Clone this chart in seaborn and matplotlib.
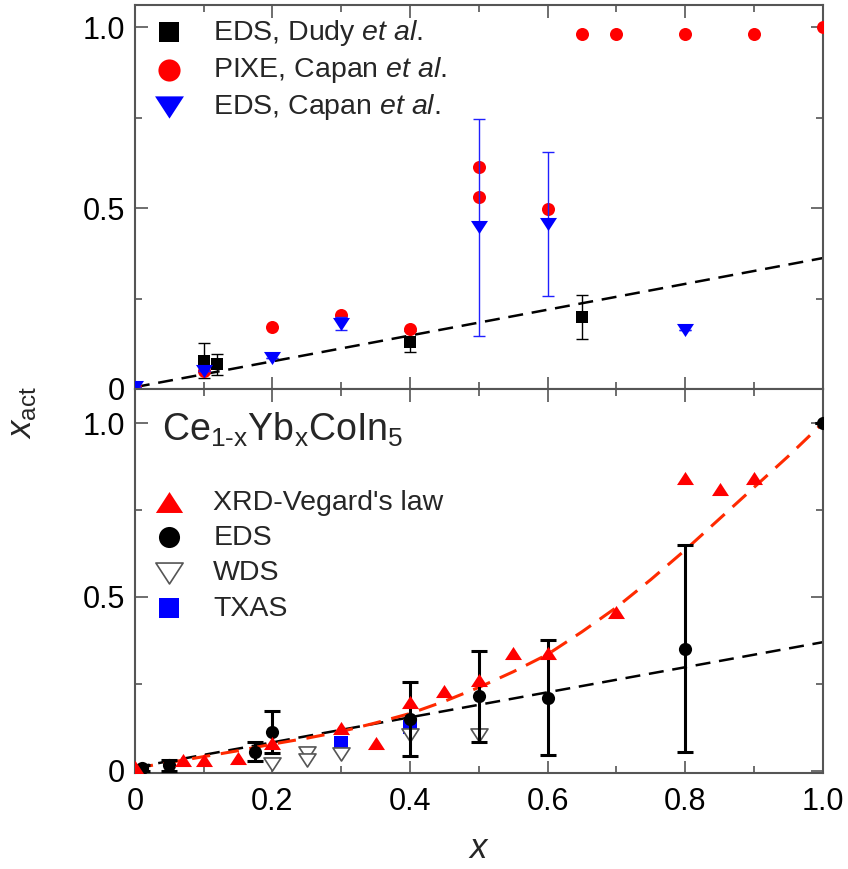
import numpy as np
import pandas as pd
import seaborn as sns
import matplotlib
matplotlib.use("Agg")
import matplotlib.pyplot as plt
from matplotlib.ticker import MultipleLocator, FuncFormatter
from matplotlib.path import Path

# ---------------- data (top panel) ----------------
dudy_x = [0.10, 0.12, 0.40, 0.65]
dudy_y = [0.078, 0.068, 0.130, 0.199]
dudy_err = [0.048, 0.030, 0.029, 0.060]

pixe_x = [0.0, 0.10, 0.20, 0.30, 0.40, 0.50, 0.50, 0.60, 0.65, 0.70, 0.80, 0.90, 1.00]
pixe_y = [0.005, 0.049, 0.171, 0.205, 0.167, 0.615, 0.530, 0.498, 0.982, 0.982, 0.982, 0.982, 1.000]

capan_x = [0.0, 0.10, 0.20, 0.30, 0.50, 0.60, 0.80]
capan_y = [0.005, 0.050, 0.086, 0.180, 0.447, 0.456, 0.164]
capan_err = [0.0, 0.0, 0.0, 0.018, 0.300, 0.200, 0.0]

line_top_x = [0.0, 1.0]
line_top_y = [0.005, 0.362]

# ---------------- data (bottom panel) ----------------
xrd_x = [0.0, 0.07, 0.10, 0.15, 0.20, 0.30, 0.35, 0.40, 0.45, 0.50, 0.55, 0.60, 0.70, 0.80, 0.85, 0.90]
xrd_y = [0.010, 0.031, 0.031, 0.036, 0.080, 0.122, 0.081, 0.198, 0.229, 0.262, 0.339, 0.339, 0.456, 0.841, 0.810, 0.841]

eds_x = [0.01, 0.05, 0.174, 0.20, 0.40, 0.50, 0.60, 0.80, 1.00]
eds_y = [0.008, 0.016, 0.055, 0.112, 0.149, 0.215, 0.210, 0.351, 1.000]
eds_err = [0.008, 0.015, 0.027, 0.061, 0.107, 0.131, 0.165, 0.298, 0.0]

wds_x = [0.20, 0.25, 0.25, 0.30, 0.40, 0.50]
wds_y = [0.020, 0.052, 0.030, 0.049, 0.102, 0.104]

txas_x = [0.30, 0.40]
txas_y = [0.080, 0.127]

fit_x = [0.0, 0.05, 0.10, 0.15, 0.20, 0.25, 0.30, 0.35, 0.40, 0.45, 0.50,
         0.55, 0.60, 0.65, 0.70, 0.75, 0.80, 0.85, 0.90, 0.95, 1.00]
fit_y = [0.008, 0.024, 0.041, 0.058, 0.077, 0.094, 0.113, 0.138, 0.165, 0.200, 0.240,
         0.285, 0.335, 0.400, 0.470, 0.550, 0.635, 0.725, 0.815, 0.905, 1.000]

line_bot_x = [0.0, 1.0]
line_bot_y = [0.010, 0.370]

# ---------------- style ----------------
sns.set_theme(style="ticks")
plt.rcParams["font.family"] = ["Liberation Sans", "DejaVu Sans"]
plt.rcParams["mathtext.fontset"] = "custom"
plt.rcParams["mathtext.rm"] = "Liberation Sans"
plt.rcParams["mathtext.it"] = "Liberation Sans:italic"
plt.rcParams["mathtext.sf"] = "Liberation Sans"

FS_TICK = 22
FS_LEG = 20.5
SPINE = "#555555"
CLOSE = [Path.MOVETO, Path.LINETO, Path.LINETO, Path.CLOSEPOLY]
tri_down = Path([(-1.3, 1.0), (1.3, 1.0), (0.0, -1.0), (-1.3, 1.0)], CLOSE)
tri_up = Path([(-1.3, -1.0), (1.3, -1.0), (0.0, 1.0), (-1.3, -1.0)], CLOSE)

fig = plt.figure(figsize=(8.48, 8.69), dpi=100)
ax1 = fig.add_axes([0.159, 0.5524, 0.8113, 0.4419])
ax2 = fig.add_axes([0.159, 0.1105, 0.8113, 0.4419])

fmt = FuncFormatter(lambda v, p: "0" if abs(v) < 1e-9 else f"{v:.1f}")

for ax in (ax1, ax2):
    ax.set_xlim(0, 1.0)
    ax.xaxis.set_major_locator(MultipleLocator(0.2))
    ax.xaxis.set_minor_locator(MultipleLocator(0.1))
    ax.yaxis.set_major_locator(MultipleLocator(0.5))
    ax.yaxis.set_minor_locator(MultipleLocator(0.25))
    ax.yaxis.set_major_formatter(fmt)
    ax.xaxis.set_major_formatter(fmt)
    ax.tick_params(which="both", direction="in", top=True, right=True,
                   color=SPINE, width=1.2, labelsize=FS_TICK, labelcolor="black")
    ax.tick_params(which="major", length=9)
    ax.tick_params(which="minor", length=5)
    ax.tick_params(axis="y", pad=7)
    ax.tick_params(axis="x", pad=10)
    for s in ax.spines.values():
        s.set_color(SPINE)
        s.set_linewidth(1.5)

ax1.set_ylim(0, 1.062)
ax2.set_ylim(-0.006, 1.098)
ax1.tick_params(axis="x", labelbottom=False)

# ---------------- top panel ----------------
sns.lineplot(x=line_top_x, y=line_top_y, ax=ax1, color="black", linewidth=1.8,
             linestyle=(0, (6, 3.5)), zorder=1)
ax1.errorbar(dudy_x, dudy_y, yerr=dudy_err, fmt="none", ecolor="black",
             elinewidth=1.0, capsize=4, capthick=1.0, zorder=2)
sns.scatterplot(x=dudy_x, y=dudy_y, ax=ax1, marker="s", color="black", s=78,
                linewidth=0, zorder=3)
h_dudy = ax1.collections[-1]
sns.scatterplot(x=pixe_x, y=pixe_y, ax=ax1, marker="o", color="#ff0000", s=88,
                linewidth=0, zorder=4)
h_pixe = ax1.collections[-1]
ax1.errorbar(capan_x, capan_y, yerr=capan_err, fmt="none", ecolor="#2020ff",
             elinewidth=1.0, capsize=4, capthick=1.0, zorder=5)
sns.scatterplot(x=capan_x, y=capan_y, ax=ax1, marker=tri_down, color="#0000ff", s=150,
                linewidth=0, zorder=6)
h_capan = ax1.collections[-1]

ax1.legend([h_dudy, h_pixe, h_capan],
           [r"EDS, Dudy $\mathit{et\ al.}$", r"PIXE, Capan $\mathit{et\ al.}$",
            r"EDS, Capan $\mathit{et\ al.}$"],
           loc="upper left", bbox_to_anchor=(-0.008, 1.018), frameon=False,
           fontsize=FS_LEG, markerscale=1.7, handletextpad=0.85, labelspacing=0.25,
           borderaxespad=0.3, handlelength=1.4)

# ---------------- bottom panel ----------------
sns.lineplot(x=line_bot_x, y=line_bot_y, ax=ax2, color="black", linewidth=1.8,
             linestyle=(0, (6, 3.5)), zorder=1)
sns.lineplot(x=fit_x, y=fit_y, ax=ax2, color="#ff2a00", linewidth=2.2,
             linestyle=(0, (6, 3.5)), zorder=2, sort=False)
sns.scatterplot(x=txas_x, y=txas_y, ax=ax2, marker="s", color="#0000ff", s=88,
                linewidth=0, zorder=3)
h_txas = ax2.collections[-1]
sns.scatterplot(x=wds_x, y=wds_y, ax=ax2, marker=tri_down, facecolor="white",
                edgecolor="#555555", s=150, linewidth=1.2, zorder=4)
h_wds = ax2.collections[-1]
ax2.errorbar(eds_x, eds_y, yerr=eds_err, fmt="none", ecolor="black",
             elinewidth=2.2, capsize=6, capthick=2.2, zorder=5)
sns.scatterplot(x=eds_x, y=eds_y, ax=ax2, marker="o", color="black", s=90,
                linewidth=0, zorder=6)
h_eds = ax2.collections[-1]
sns.scatterplot(x=xrd_x, y=xrd_y, ax=ax2, marker=tri_up, color="#ff0000", s=150,
                linewidth=0, zorder=7)
h_xrd = ax2.collections[-1]

ax2.text(0.04, 0.893, r"$\mathrm{Ce_{1\text{-}x}Yb_{x}CoIn_{5}}$", transform=ax2.transAxes,
         fontsize=27, va="center", ha="left")

ax2.legend([h_xrd, h_eds, h_wds, h_txas],
           ["XRD-Vegard's law", "EDS", "WDS", "TXAS"],
           loc="upper left", bbox_to_anchor=(-0.008, 0.79), frameon=False,
           fontsize=FS_LEG, markerscale=1.6, handletextpad=0.85, labelspacing=0.33,
           borderaxespad=0.3, handlelength=1.4)

ax2.set_xlabel(r"$x$", fontsize=25, labelpad=11)
fig.text(0.026, 0.525, r"$x_{\mathrm{act}}$", rotation=90, fontsize=25,
         ha="center", va="center")

fig.savefig("out.png", dpi=100)
